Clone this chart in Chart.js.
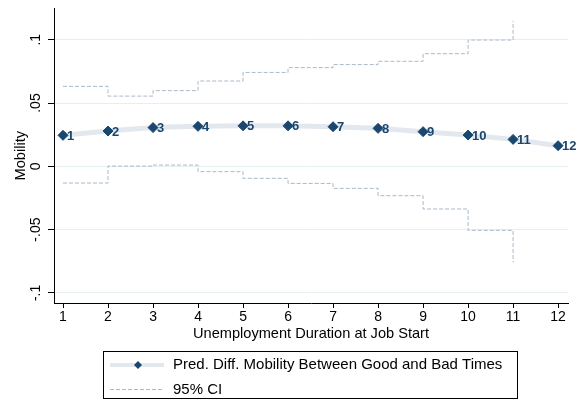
<!DOCTYPE html>
<html>
<head>
<meta charset="utf-8">
<script src="https://cdn.jsdelivr.net/npm/chart.js@4.4.1/dist/chart.umd.min.js"></script>
<style>
  body { margin: 0; background: #fff; }
</style>
</head>
<body>
<canvas id="mycanvas" width="582" height="400"></canvas>
<script>
// values
var durations = [1, 2, 3, 4, 5, 6, 7, 8, 9, 10, 11, 12];
var predDiff = [0.0245, 0.0279, 0.0306, 0.0316, 0.0320, 0.0320, 0.0313, 0.0300, 0.0274, 0.0247, 0.0213, 0.0163];
var ciUpper = [0.0632, 0.0555, 0.0598, 0.0674, 0.0742, 0.0780, 0.0804, 0.0830, 0.0890, 0.0998, 0.1150];
var ciLower = [-0.0132, 0.0002, 0.0010, -0.0042, -0.0095, -0.0135, -0.0174, -0.0232, -0.0337, -0.0506, -0.0758];
var yTickValues = [-0.1, -0.05, 0, 0.05, 0.1];
var yTickLabels = ['-.1', '-.05', '0', '.05', '.1'];
var legendLabels = ['Pred. Diff. Mobility Between Good and Bad Times', '95% CI'];

var navy = '#1a476f';
var lineLight = '#e3e8ee';
var ciColor = '#a9b9ca';

Chart.defaults.font.family = '"Liberation Sans", Arial, sans-serif';
Chart.defaults.color = '#000';

function toPoints(xs, ys) {
  var out = [];
  for (var i = 0; i < ys.length; i++) out.push({x: xs[i], y: ys[i]});
  return out;
}

// point labels 1..12 next to the diamonds
var pointLabels = {
  id: 'pointLabels',
  afterDatasetsDraw: function(chart) {
    var ctx = chart.ctx;
    var meta = chart.getDatasetMeta(2);
    ctx.save();
    ctx.font = 'bold 13px "Liberation Sans", Arial, sans-serif';
    ctx.fillStyle = navy;
    ctx.textAlign = 'left';
    ctx.textBaseline = 'middle';
    meta.data.forEach(function(pt, i) {
      ctx.fillText(String(durations[i]), pt.x + 4, pt.y + 1);
    });
    ctx.restore();
  }
};

// boxed legend like the stata one
var boxLegend = {
  id: 'boxLegend',
  afterDraw: function(chart) {
    var ctx = chart.ctx;
    ctx.save();
    ctx.strokeStyle = '#000';
    ctx.lineWidth = 1;
    ctx.strokeRect(103.5, 351.5, 414, 47);

    // row 1: thick light line + diamond
    ctx.strokeStyle = lineLight;
    ctx.lineWidth = 4;
    ctx.beginPath();
    ctx.moveTo(110, 365);
    ctx.lineTo(164, 365);
    ctx.stroke();
    ctx.fillStyle = navy;
    ctx.beginPath();
    ctx.moveTo(138, 361);
    ctx.lineTo(142, 365);
    ctx.lineTo(138, 369);
    ctx.lineTo(134, 365);
    ctx.closePath();
    ctx.fill();

    // row 2: dashed line
    ctx.strokeStyle = ciColor;
    ctx.lineWidth = 1;
    ctx.setLineDash([4, 2]);
    ctx.beginPath();
    ctx.moveTo(110, 389.5);
    ctx.lineTo(164, 389.5);
    ctx.stroke();
    ctx.setLineDash([]);

    ctx.fillStyle = '#000';
    ctx.font = '15px "Liberation Sans", Arial, sans-serif';
    ctx.textAlign = 'left';
    ctx.textBaseline = 'middle';
    ctx.fillText(legendLabels[0], 173, 365);
    ctx.fillText(legendLabels[1], 173, 390);
    ctx.restore();
  }
};

var ctx = document.getElementById('mycanvas');

var chart = new Chart(ctx, {
  type: 'line',
  data: {
    datasets: [
      {
        label: legendLabels[1],
        data: toPoints(durations, ciUpper),
        borderColor: ciColor,
        borderWidth: 1,
        borderDash: [4, 2],
        stepped: 'before',
        pointRadius: 0,
        fill: false
      },
      {
        label: legendLabels[1],
        data: toPoints(durations, ciLower),
        borderColor: ciColor,
        borderWidth: 1,
        borderDash: [4, 2],
        stepped: 'before',
        pointRadius: 0,
        fill: false
      },
      {
        label: legendLabels[0],
        data: toPoints(durations, predDiff),
        borderColor: lineLight,
        borderWidth: 5,
        tension: 0,
        pointStyle: 'rectRot',
        pointRadius: 5,
        pointBackgroundColor: navy,
        pointBorderColor: navy,
        pointBorderWidth: 1,
        fill: false
      }
    ]
  },
  options: {
    responsive: false,
    animation: false,
    devicePixelRatio: 1,
    layout: { padding: { top: 8, right: 14, bottom: 57, left: 0 } },
    plugins: {
      legend: { display: false },
      tooltip: { enabled: false }
    },
    scales: {
      x: {
        type: 'linear',
        min: 0.8,
        max: 12.22,
        afterBuildTicks: function(scale) {
          scale.ticks = durations.map(function(v) { return {value: v}; });
        },
        afterFit: function(scale) { scale.height = 40; },
        grid: { drawOnChartArea: false, tickLength: 5, tickColor: '#000' },
        border: { color: '#000', width: 1 },
        ticks: {
          font: { size: 14 },
          color: '#000',
          padding: 1,
          maxRotation: 0,
          callback: function(v) { return String(v); }
        },
        title: {
          display: true,
          text: 'Unemployment Duration at Job Start',
          font: { size: 14.6 },
          color: '#000',
          padding: { top: 2, bottom: 0 }
        }
      },
      y: {
        min: -0.108,
        max: 0.1248,
        afterBuildTicks: function(scale) {
          scale.ticks = yTickValues.map(function(v) { return {value: v}; });
        },
        afterFit: function(scale) { scale.width = 54; },
        grid: { color: '#e6eff0', lineWidth: 1, tickLength: 6, tickColor: '#000' },
        border: { color: '#000', width: 1 },
        ticks: {
          font: { size: 14 },
          color: '#000',
          padding: 0,
          minRotation: 90,
          maxRotation: 90,
          crossAlign: 'center',
          callback: function(v) {
            var i = yTickValues.indexOf(v);
            return i >= 0 ? yTickLabels[i] : '';
          }
        },
        title: {
          display: true,
          text: 'Mobility',
          font: { size: 14.6 },
          color: '#000',
          padding: { top: 12, bottom: 0 }
        }
      }
    }
  },
  plugins: [pointLabels, boxLegend]
});
</script>
</body>
</html>
